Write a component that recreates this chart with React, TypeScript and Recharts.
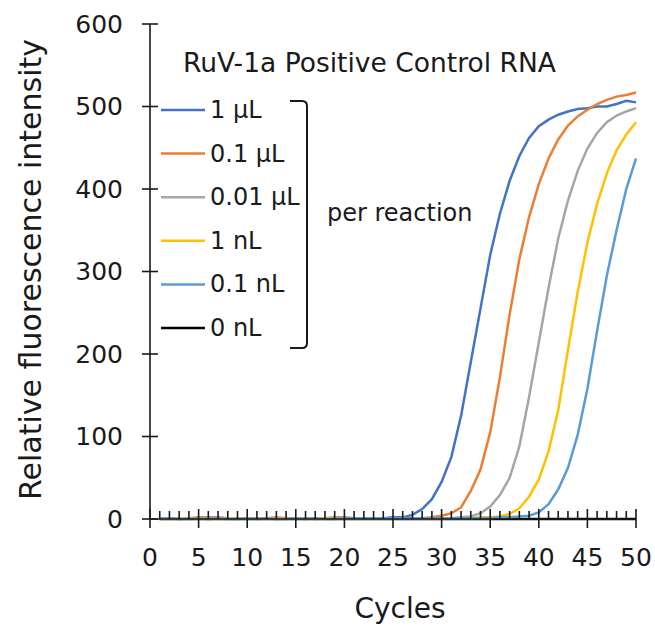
import React from 'react';
import { LineChart, Line, XAxis, YAxis, Legend, Label } from 'recharts';

const cycles = [1, 2, 3, 4, 5, 6, 7, 8, 9, 10, 11, 12, 13, 14, 15, 16, 17, 18, 19, 20, 21, 22, 23, 24, 25, 26, 27, 28, 29, 30, 31, 32, 33, 34, 35, 36, 37, 38, 39, 40, 41, 42, 43, 44, 45, 46, 47, 48, 49, 50];

const s1uL = [1, 1, 0, 1, 1, 0, 1, 1, 0, 1, 1, 1, 0, 1, 1, 1, 0, 1, 1, 1, 1, 1, 1, 1, 2, 2, 5, 12, 24, 45, 75, 125, 190, 255, 320, 370, 410, 440, 462, 476, 484, 490, 494, 497, 498, 500, 500, 503, 507, 505];
const s01uL = [1, 0, 1, 1, 2, 2, 2, 1, 1, 0, 1, 1, 2, 1, 1, 0, 1, 1, 2, 2, 1, 1, 1, 1, 1, 1, 1, 1, 2, 4, 7, 14, 34, 60, 105, 172, 248, 315, 366, 406, 437, 460, 477, 488, 496, 503, 508, 512, 514, 517];
const s001uL = [0, 1, 0, 1, 0, 1, 1, 0, 1, 1, 0, 1, 1, 0, 1, 1, 0, 1, 1, 1, 0, 1, 1, 1, 1, 1, 1, 1, 1, 1, 1, 2, 3, 7, 15, 29, 50, 88, 148, 214, 280, 340, 386, 422, 449, 468, 481, 489, 494, 498];
const s1nL = [0, 0, 1, 0, 1, 0, 0, 1, 0, 1, 0, 0, 1, 0, 1, 0, 0, 1, 0, 1, 0, 1, 1, 0, 1, 1, 1, 1, 1, 1, 1, 1, 1, 2, 2, 3, 6, 13, 27, 48, 82, 132, 205, 275, 335, 382, 419, 447, 466, 481];
const s01nL = [0, 1, 0, 0, 1, 0, 1, 0, 0, 1, 0, 1, 0, 0, 1, 0, 1, 0, 0, 1, 1, 1, 1, 1, 1, 1, 1, 1, 1, 1, 1, 1, 1, 1, 1, 2, 2, 3, 4, 8, 18, 36, 62, 102, 158, 228, 295, 350, 400, 437];
const s0nL = [0, 0, 0, 0, 0, 0, 0, 0, 0, 0, 0, 0, 0, 0, 0, 0, 0, 0, 0, 0, 0, 0, 0, 0, 0, 0, 0, 0, 0, 0, 0, 0, 0, 0, 0, 0, 0, 0, 0, 0, 0, 0, 0, 0, 0, 0, 0, 0, 0, 0];

const seriesKeys = ['s1uL', 's01uL', 's001uL', 's1nL', 's01nL', 's0nL'];
const seriesNames = ['1 µL', '0.1 µL', '0.01 µL', '1 nL', '0.1 nL', '0 nL'];
const seriesColors = ['#4472C4', '#ED7D31', '#A5A5A5', '#FFC000', '#5B9BD5', '#000000'];

const xTicks = [0, 1, 2, 3, 4, 5, 6, 7, 8, 9, 10, 11, 12, 13, 14, 15, 16, 17, 18, 19, 20, 21, 22, 23, 24, 25, 26, 27, 28, 29, 30, 31, 32, 33, 34, 35, 36, 37, 38, 39, 40, 41, 42, 43, 44, 45, 46, 47, 48, 49, 50];
const xMajorStep = 5;
const yTicks = [0, 100, 200, 300, 400, 500, 600];

const titleText = 'RuV-1a Positive Control RNA';
const bracketText = 'per reaction';
const xTitle = 'Cycles';
const yTitle = 'Relative fluorescence intensity';

const seriesValues = [s1uL, s01uL, s001uL, s1nL, s01nL, s0nL];
const data = cycles.map((c, i) => {
  const row: Record<string, number> = { cycle: c };
  seriesKeys.forEach((k, j) => {
    row[k] = seriesValues[j][i];
  });
  return row;
});

const FONT = '"DejaVu Sans", Verdana, sans-serif';
const AXIS = '#1a1a1a';
const TEXT = '#1a1a1a';

const XTick = (props: any) => {
  const { x, y, payload } = props;
  const v = payload.value;
  const major = v % xMajorStep === 0;
  return (
    <g>
      {major ? (
        <line x1={x} x2={x} y1={y - 10} y2={y + 9} stroke={AXIS} strokeWidth={1.6} />
      ) : (
        <line x1={x} x2={x} y1={y - 8} y2={y} stroke={AXIS} strokeWidth={1.6} />
      )}
      {major && (
        <text x={x} y={y + 38} textAnchor="middle" dominantBaseline="central" fontSize={25} fontFamily={FONT} fill={TEXT}>
          {v}
        </text>
      )}
    </g>
  );
};

const YTick = (props: any) => {
  const { x, y, payload } = props;
  return (
    <g>
      <line x1={x - 8} x2={x + 8} y1={y} y2={y} stroke={AXIS} strokeWidth={1.6} />
      <text x={x - 27} y={y} textAnchor="end" dominantBaseline="central" fontSize={25} fontFamily={FONT} fill={TEXT}>
        {payload.value}
      </text>
    </g>
  );
};

const LegendContent = () => {
  const rowY0 = 110;
  const rowStep = 43.6;
  return (
    <svg width={655} height={400} style={{ display: 'block', overflow: 'visible' }}>
      <text x={183} y={62} dominantBaseline="central" fontSize={26.5} fontFamily={FONT} fill={TEXT}>
        {titleText}
      </text>
      {seriesNames.map((n, i) => (
        <g key={n}>
          <line x1={161} x2={205} y1={rowY0 + i * rowStep} y2={rowY0 + i * rowStep} stroke={seriesColors[i]} strokeWidth={2.5} />
          <text x={210} y={rowY0 + i * rowStep} dominantBaseline="central" fontSize={24} fontFamily={FONT} fill={TEXT}>
            {n}
          </text>
        </g>
      ))}
      <path d="M 290 101 L 302 101 Q 307 101 307 106 L 307 343 Q 307 348 302 348 L 290 348" fill="none" stroke={AXIS} strokeWidth={2} />
      <text x={327} y={213} dominantBaseline="central" fontSize={24} fontFamily={FONT} fill={TEXT}>
        {bracketText}
      </text>
    </svg>
  );
};

export default function App() {
  const drawOrder = [5, 0, 1, 2, 3, 4];
  return (
    <div style={{ position: 'absolute', left: 0, top: 0, width: 655, height: 630, background: '#fff' }}>
      <LineChart width={655} height={630} data={data} margin={{ top: 24, right: 19, left: 0, bottom: 0 }}>
        <XAxis
          dataKey="cycle"
          type="number"
          domain={[0, 50]}
          ticks={xTicks}
          interval={0}
          tickSize={0}
          tickMargin={0}
          tickLine={false}
          tick={<XTick />}
          height={111}
          axisLine={{ stroke: AXIS, strokeWidth: 1.6 }}
        >
          <Label
            content={(p: any) => {
              const vb = p.viewBox;
              return (
                <text x={vb.x + vb.width / 2 + 7} y={vb.y + 89} textAnchor="middle" dominantBaseline="central" fontSize={28} fontFamily={FONT} fill={TEXT}>
                  {xTitle}
                </text>
              );
            }}
          />
        </XAxis>
        <YAxis
          type="number"
          domain={[0, 600]}
          ticks={yTicks}
          interval={0}
          tickSize={0}
          tickMargin={0}
          tickLine={false}
          tick={<YTick />}
          width={150}
          axisLine={{ stroke: AXIS, strokeWidth: 1.6 }}
        >
          <Label
            content={(p: any) => {
              const vb = p.viewBox;
              const cx = vb.x + 30;
              const cy = vb.y + vb.height / 2 - 2;
              return (
                <text x={cx} y={cy} textAnchor="middle" dominantBaseline="central" fontSize={30} fontFamily={FONT} fill={TEXT} transform={`rotate(-90 ${cx} ${cy})`}>
                  {yTitle}
                </text>
              );
            }}
          />
        </YAxis>
        <Legend
          layout="vertical"
          align="center"
          verticalAlign="middle"
          content={<LegendContent />}
          wrapperStyle={{ left: 0, top: 0, width: 655, height: 400 }}
        />
        {drawOrder.map((i) => (
          <Line
            key={seriesKeys[i]}
            dataKey={seriesKeys[i]}
            name={seriesNames[i]}
            stroke={seriesColors[i]}
            strokeWidth={2.5}
            dot={false}
            type="linear"
            isAnimationActive={false}
          />
        ))}
      </LineChart>
    </div>
  );
}
